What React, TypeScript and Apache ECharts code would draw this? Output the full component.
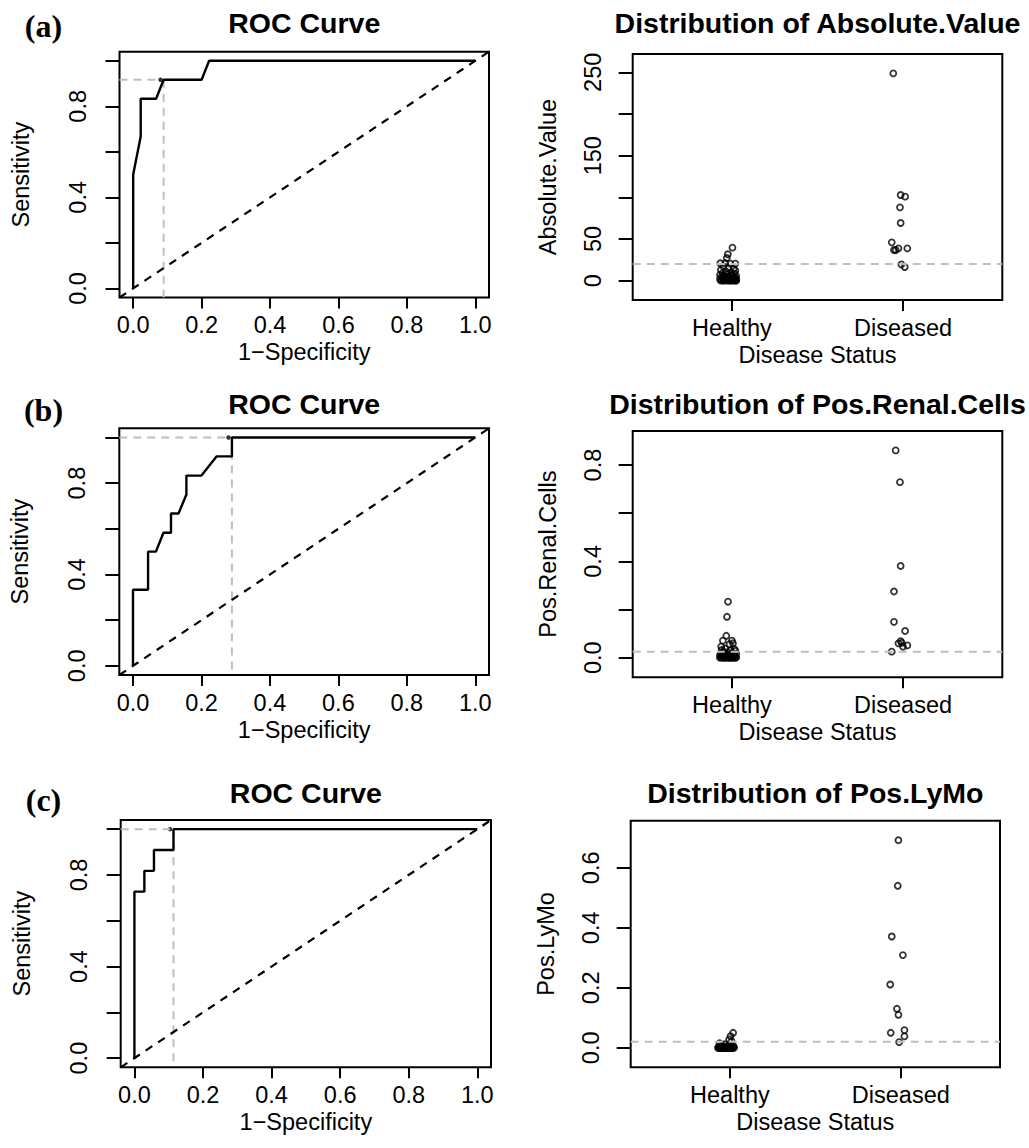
import React, { useEffect, useRef } from "react";
import * as echarts from "echarts";

// ---------- data ----------
const rocTicks = [0, 0.2, 0.4, 0.6, 0.8, 1.0];
const rocYLabelValues = [0, 0.4, 0.8];

// ROC (a) Absolute.Value
const rocAFpr = [0, 0, 0.022, 0.022, 0.067, 0.089, 0.2, 0.222, 1];
const rocATpr = [0, 0.5, 0.667, 0.833, 0.833, 0.917, 0.917, 1, 1];
const bestA = [0.08, 0.917];
const cutA = 0.089;

// ROC (b) Pos.Renal.Cells
const rocBFpr = [0, 0, 0.044, 0.044, 0.067, 0.089, 0.111, 0.111, 0.133, 0.156, 0.156, 0.2, 0.244, 0.289, 0.289, 1];
const rocBTpr = [0, 0.333, 0.333, 0.5, 0.5, 0.583, 0.583, 0.667, 0.667, 0.75, 0.833, 0.833, 0.917, 0.917, 1, 1];
const bestB = [0.279, 1];
const cutB = 0.289;

// ROC (c) Pos.LyMo
const rocCFpr = [0, 0, 0.029, 0.029, 0.057, 0.057, 0.114, 0.114, 1];
const rocCTpr = [0, 0.727, 0.727, 0.818, 0.818, 0.909, 0.909, 1, 1];
const bestC = [0.104, 1];
const cutC = 0.114;

const groups = ["Healthy", "Diseased"];

// Absolute.Value
const absTicks = [0, 50, 100, 150, 200, 250];
const absLabels = [0, 50, 150, 250];
const absHealthy = [39.6, 31.7, 27.2, 20.9, 20.9, 20.5, 20.5, 17, 15, 14, 13, 12, 11, 10, 9, 8.5, 8, 7, 6.5, 6, 5.5, 5, 4.5, 4, 3.5, 3, 3, 2.5, 2, 2, 1.5, 1.5, 1, 1, 1, 0.5, 0.5, 0.5, 0, 0, 0, 0, 0, 0, 0];
const absHealthyX = [1.003, 0.976, 0.97, 0.932, 0.961, 0.99, 1.02, 0.95, 0.98, 1.01, 0.935, 1.02, 0.965, 0.995, 0.945, 1.015, 0.975, 0.93, 1.0, 0.955, 1.025, 0.985, 0.94, 1.01, 0.965, 1.02, 0.95, 0.99, 0.93, 1.005, 0.96, 1.025, 0.98, 0.94, 1.01, 0.955, 1.02, 0.99, 0.935, 0.97, 1.0, 1.025, 0.95, 0.985, 1.015];
const absDiseased = [248.8, 102.8, 100.8, 88, 69.2, 46, 36.8, 36.8, 38.8, 38.8, 19.6, 16.4];
const absDiseasedX = [1.943, 1.986, 2.012, 1.982, 1.986, 1.934, 1.947, 1.957, 1.973, 2.025, 1.99, 2.01];
const absCutoff = 20;

// Pos.Renal.Cells
const renalTicks = [0, 0.2, 0.4, 0.6, 0.8];
const renalLabels = [0, 0.4, 0.8];
const renalHealthy = [0.2326, 0.17, 0.091, 0.071, 0.071, 0.046, 0.056, 0.06, 0.038, 0.035, 0.032, 0.03, 0.028, 0.025, 0.022, 0.02, 0.018, 0.016, 0.015, 0.013, 0.012, 0.01, 0.01, 0.008, 0.007, 0.006, 0.005, 0.005, 0.004, 0.003, 0.003, 0.002, 0.002, 0.001, 0.001, 0, 0, 0, 0, 0, 0, 0, 0, 0, 0];
const renalHealthyX = [0.977, 0.971, 0.967, 0.947, 1.0, 0.937, 0.986, 1.006, 0.96, 1.015, 0.94, 0.99, 1.02, 0.95, 0.975, 1.005, 0.935, 0.965, 1.025, 0.955, 0.985, 0.93, 1.01, 0.97, 0.945, 1.02, 0.995, 0.94, 0.96, 1.015, 0.98, 0.935, 1.005, 0.95, 1.025, 0.965, 0.99, 0.93, 1.01, 0.955, 0.975, 1.02, 0.945, 0.985, 1.0];
const renalDiseased = [0.861, 0.729, 0.381, 0.275, 0.149, 0.111, 0.069, 0.0595, 0.0457, 0.051, 0.025, 0.062];
const renalDiseasedX = [1.957, 1.982, 1.986, 1.947, 1.947, 2.012, 1.986, 1.973, 2.0, 2.025, 1.934, 1.992];
const renalCutoff = 0.025;

// Pos.LyMo
const lymoTicks = [0, 0.2, 0.4, 0.6];
const lymoLabels = [0, 0.2, 0.4, 0.6];
const lymoHealthy = [0.05, 0.039, 0.028, 0.022, 0.015, 0.012, 0.01, 0.008, 0.006, 0.005, 0.004, 0.003, 0.002, 0.002, 0.001, 0.001, 0, 0, 0, 0, 0, 0, 0, 0, 0, 0, 0, 0, 0, 0, 0, 0, 0, 0, 0];
const lymoHealthyX = [1.019, 1.004, 0.996, 1.01, 0.94, 0.97, 1.0, 0.955, 1.02, 0.985, 0.935, 0.965, 1.005, 0.95, 0.99, 1.025, 0.93, 0.945, 0.96, 0.975, 0.99, 1.005, 1.02, 0.94, 0.955, 0.97, 0.985, 1.0, 1.015, 0.935, 0.95, 0.965, 0.98, 0.995, 1.01];
const lymoDiseased = [0.692, 0.54, 0.371, 0.309, 0.211, 0.13, 0.11, 0.05, 0.059, 0.038, 0.019];
const lymoDiseasedX = [1.986, 1.982, 1.947, 2.012, 1.938, 1.977, 1.986, 1.941, 2.021, 2.021, 1.99];
const lymoCutoff = 0.02;

// ---------- styling / layout ----------
const FONT = '"Liberation Sans", Arial, Helvetica, sans-serif';
const SERIF = '"Liberation Serif", "Times New Roman", serif';
const GRAY = "#bebebe";
const FS = 23.5;

const rocGrids = [
  { left: 119.5, top: 51.7, width: 369.5, height: 245.8 },
  { left: 119.3, top: 428.3, width: 369.7, height: 246.7 },
  { left: 120.7, top: 820, width: 370.3, height: 247.3 },
];
const scatGrids = [
  { left: 632.7, top: 54, width: 369.6, height: 246 },
  { left: 632.7, top: 431, width: 369.6, height: 246.3 },
  { left: 630.7, top: 820.7, width: 369.3, height: 246.6 },
];
const scatRanges = [
  [-23.2, 272],
  [-0.0814, 0.9415],
  [-0.065, 0.757],
];
const titleY = [23, 403.5, 793];
const panelLabelY = [26, 410, 800];

const zip = (xs: number[], ys: number[]) => xs.map((x, i) => [x, ys[i]]);

function xAxisBase(gridIndex: number) {
  return {
    type: "value",
    gridIndex,
    axisLine: { show: false, onZero: false },
    splitLine: { show: false },
    axisTick: { show: true, length: 11, lineStyle: { color: "#000", width: 2 } },
  };
}
function yAxisBase(gridIndex: number) {
  return {
    type: "value",
    gridIndex,
    axisLine: { show: false, onZero: false },
    splitLine: { show: false },
    axisTick: { show: true, length: 14, lineStyle: { color: "#000", width: 2 } },
  };
}

export default function App() {
  const ref = useRef<HTMLDivElement>(null);
  useEffect(() => {
    if (!ref.current) return;
    const chart = echarts.init(ref.current, undefined, { renderer: "svg" });

    const grids: any[] = [];
    const xAxes: any[] = [];
    const yAxes: any[] = [];
    const series: any[] = [];
    const graphics: any[] = [];

    const rocData = [
      { fpr: rocAFpr, tpr: rocATpr, best: bestA, cut: cutA },
      { fpr: rocBFpr, tpr: rocBTpr, best: bestB, cut: cutB },
      { fpr: rocCFpr, tpr: rocCTpr, best: bestC, cut: cutC },
    ];
    const scatData = [
      { name: "Absolute.Value", h: absHealthy, hx: absHealthyX, d: absDiseased, dx: absDiseasedX, cut: absCutoff, ticks: absTicks, labels: absLabels, fmt: (v: number) => String(v) },
      { name: "Pos.Renal.Cells", h: renalHealthy, hx: renalHealthyX, d: renalDiseased, dx: renalDiseasedX, cut: renalCutoff, ticks: renalTicks, labels: renalLabels, fmt: (v: number) => v.toFixed(1) },
      { name: "Pos.LyMo", h: lymoHealthy, hx: lymoHealthyX, d: lymoDiseased, dx: lymoDiseasedX, cut: lymoCutoff, ticks: lymoTicks, labels: lymoLabels, fmt: (v: number) => v.toFixed(1) },
    ];

    for (let p = 0; p < 3; p++) {
      // ROC panel
      const gi = p * 2;
      const g = rocGrids[p];
      grids.push({ ...g, show: true, borderColor: "#000", borderWidth: 2, backgroundColor: "transparent" });
      xAxes.push({
        ...xAxisBase(gi),
        min: -0.04,
        max: 1.04,
        axisTick: { ...xAxisBase(gi).axisTick, customValues: rocTicks },
        axisLabel: { customValues: rocTicks, formatter: (v: number) => v.toFixed(1), fontSize: FS, fontFamily: FONT, color: "#000", margin: 27.5, verticalAlign: "middle" },
        name: "1\u2212Specificity",
        nameLocation: "middle",
        nameGap: 54.5,
        nameTextStyle: { fontSize: FS, fontFamily: FONT, color: "#000", verticalAlign: "middle", align: "center" },
      });
      yAxes.push({
        ...yAxisBase(gi),
        min: -0.04,
        max: 1.04,
        axisTick: { ...yAxisBase(gi).axisTick, customValues: rocTicks },
        axisLabel: { customValues: rocYLabelValues, formatter: (v: number) => v.toFixed(1), rotate: 90, fontSize: FS, fontFamily: FONT, color: "#000", margin: 42, verticalAlign: "middle", align: "center" },
        name: "Sensitivity",
        nameLocation: "middle",
        nameGap: 99,
        nameTextStyle: { fontSize: FS, fontFamily: FONT, color: "#000", verticalAlign: "middle", align: "center" },
      });
      const r = rocData[p];
      series.push({
        type: "line", xAxisIndex: gi, yAxisIndex: gi, symbol: "none", silent: true,
        data: [[-0.04, r.best[1]], [r.best[0], r.best[1]]],
        lineStyle: { color: GRAY, width: 2, type: [8, 6] },
      });
      series.push({
        type: "line", xAxisIndex: gi, yAxisIndex: gi, symbol: "none", silent: true,
        data: [[r.cut, r.best[1]], [r.cut, -0.04]],
        lineStyle: { color: GRAY, width: 2, type: [8, 6] },
      });
      series.push({
        type: "line", xAxisIndex: gi, yAxisIndex: gi, symbol: "none", silent: true,
        data: [[-0.04, -0.04], [1.04, 1.04]],
        lineStyle: { color: "#000", width: 2.2, type: [8, 7] },
      });
      series.push({
        type: "line", xAxisIndex: gi, yAxisIndex: gi, symbol: "none", silent: true,
        data: zip(r.fpr, r.tpr),
        lineStyle: { color: "#000", width: 2.4 },
      });
      series.push({
        type: "scatter", xAxisIndex: gi, yAxisIndex: gi, symbol: "circle", symbolSize: 4.5, silent: true,
        data: [r.best],
        itemStyle: { color: "#000" },
      });
      graphics.push({
        type: "text", x: g.left + g.width / 2, y: titleY[p],
        style: { text: "ROC Curve", fontSize: 28.5, fontWeight: "bold", fontFamily: FONT, fill: "#000", align: "center", verticalAlign: "middle" },
      });
      graphics.push({
        type: "text", x: 43.5, y: panelLabelY[p],
        style: { text: "(" + "abc"[p] + ")", fontSize: 32, fontWeight: "bold", fontFamily: SERIF, fill: "#000", align: "center", verticalAlign: "middle" },
      });

      // scatter panel
      const si = p * 2 + 1;
      const sg = scatGrids[p];
      const s = scatData[p];
      grids.push({ ...sg, show: true, borderColor: "#000", borderWidth: 2, backgroundColor: "transparent" });
      xAxes.push({
        ...xAxisBase(si),
        min: 0.42,
        max: 2.58,
        axisTick: { ...xAxisBase(si).axisTick, customValues: [1, 2] },
        axisLabel: { customValues: [1, 2], formatter: (v: number) => groups[Math.round(v) - 1], fontSize: FS, fontFamily: FONT, color: "#000", margin: 27.5, verticalAlign: "middle" },
        name: "Disease Status",
        nameLocation: "middle",
        nameGap: 54.5,
        nameTextStyle: { fontSize: FS, fontFamily: FONT, color: "#000", verticalAlign: "middle", align: "center" },
      });
      yAxes.push({
        ...yAxisBase(si),
        min: scatRanges[p][0],
        max: scatRanges[p][1],
        axisTick: { ...yAxisBase(si).axisTick, customValues: s.ticks },
        axisLabel: { customValues: s.labels, formatter: s.fmt, rotate: 90, fontSize: FS, fontFamily: FONT, color: "#000", margin: 40, verticalAlign: "middle", align: "center" },
        name: s.name,
        nameLocation: "middle",
        nameGap: 85,
        nameTextStyle: { fontSize: FS, fontFamily: FONT, color: "#000", verticalAlign: "middle", align: "center" },
      });
      series.push({
        type: "line", xAxisIndex: si, yAxisIndex: si, symbol: "none", silent: true,
        data: [[0.42, s.cut], [2.58, s.cut]],
        lineStyle: { color: GRAY, width: 2, type: [8, 6] },
      });
      series.push({
        type: "scatter", xAxisIndex: si, yAxisIndex: si, symbol: "circle", symbolSize: 6, silent: true,
        data: [...zip(s.hx, s.h), ...zip(s.dx, s.d)],
        itemStyle: { color: "rgba(255,255,255,0)", borderColor: "#000", borderWidth: 1.8 },
      });
      graphics.push({
        type: "text", x: sg.left + sg.width / 2, y: titleY[p],
        style: { text: "Distribution of " + s.name, fontSize: 28.5, fontWeight: "bold", fontFamily: FONT, fill: "#000", align: "center", verticalAlign: "middle" },
      });
    }

    chart.setOption({
      animation: false,
      backgroundColor: "#fff",
      grid: grids,
      xAxis: xAxes,
      yAxis: yAxes,
      series,
      graphic: graphics,
    });
    return () => chart.dispose();
  }, []);
  return <div ref={ref} style={{ position: "absolute", left: 0, top: 0, width: 1029, height: 1148 }} />;
}
